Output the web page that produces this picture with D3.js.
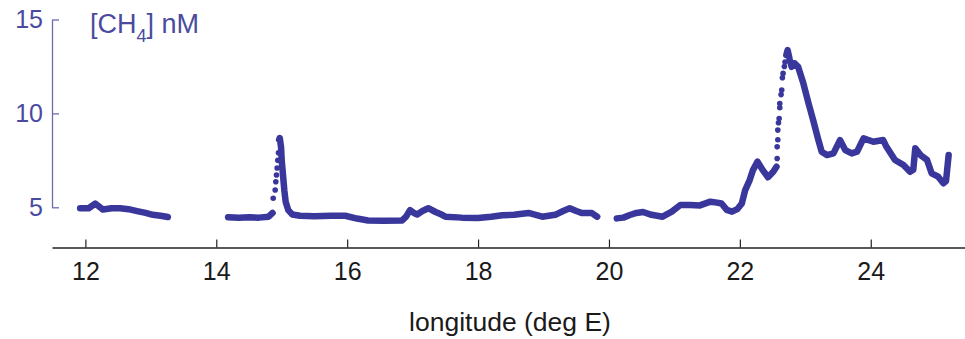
<!DOCTYPE html>
<html>
<head>
    <script src="https://d3js.org/d3.v7.min.js"></script>
    <style>
        body { margin: 0; background: #fff; }
        text { font-family: "Liberation Sans", Arial, sans-serif; }
    </style>
</head>
<body>
    <div id="chart"></div>

    <script>

        // 측정 구간 (dense track) : null = 끊김
        const trackLon = [
            11.92, 12.05, 12.15, 12.27, 12.40, 12.53, 12.66, 12.79, 12.92, 13.03, 13.15, 13.26,
            null,
            14.18, 14.35, 14.50, 14.65, 14.80, 14.86,
            null,
            14.96, 14.97, 14.99, 15.00, 15.02, 15.04, 15.06, 15.10, 15.16, 15.28, 15.50, 15.75,
            15.97, 16.15, 16.32, 16.55, 16.84, 16.90, 16.96, 17.02, 17.07, 17.15, 17.24, 17.35,
            17.45, 17.50, 17.75, 18.00, 18.20, 18.37, 18.55, 18.77, 18.98, 19.18, 19.30, 19.40,
            19.50, 19.59, 19.74, 19.82,
            null,
            20.12, 20.22, 20.32, 20.42, 20.52, 20.65, 20.82, 20.96, 21.09, 21.24, 21.39, 21.55,
            21.65, 21.72, 21.80, 21.88, 21.96, 22.03, 22.08, 22.15, 22.20, 22.27, 22.35, 22.43,
            22.51, 22.56,
            null,
            22.71, 22.73, 22.76, 22.79, 22.84, 22.89, 22.97, 23.05, 23.12, 23.20, 23.25, 23.33,
            23.43, 23.53, 23.61, 23.71, 23.79, 23.89, 24.04, 24.19, 24.24, 24.37, 24.50, 24.60,
            24.65, 24.68, 24.76, 24.86, 24.93, 25.03, 25.11, 25.15, 25.19
        ];
        const trackCh4 = [
            4.95, 4.95, 5.20, 4.88, 4.95, 4.95, 4.90, 4.80, 4.70, 4.60, 4.55, 4.48,
            null,
            4.47, 4.45, 4.47, 4.45, 4.50, 4.70,
            null,
            8.60, 8.69, 8.20, 7.50, 6.70, 5.90, 5.30, 4.85, 4.62, 4.55, 4.52, 4.55,
            4.55, 4.40, 4.30, 4.28, 4.30, 4.50, 4.85, 4.70, 4.62, 4.80, 4.95, 4.75,
            4.60, 4.50, 4.45, 4.43, 4.50, 4.58, 4.60, 4.70, 4.50, 4.60, 4.80, 4.95,
            4.80, 4.69, 4.69, 4.50,
            null,
            4.41, 4.45, 4.59, 4.70, 4.75, 4.60, 4.50, 4.77, 5.12, 5.12, 5.10, 5.30,
            5.25, 5.20, 4.86, 4.77, 4.90, 5.20, 5.90, 6.45, 6.98, 7.43, 6.98, 6.60,
            6.89, 7.16,
            null,
            13.10, 13.37, 12.90, 12.48, 12.66, 12.48, 11.60, 10.53, 9.64, 8.58, 7.96, 7.78,
            7.87, 8.58, 8.05, 7.87, 7.96, 8.67, 8.49, 8.58, 8.22, 7.52, 7.25, 6.89,
            7.00, 8.14, 7.78, 7.52, 6.81, 6.63, 6.28, 6.40, 7.78
        ];

        // 급상승 구간의 드문드문한 점들
        const sparseLon = [14.87, 14.90, 14.91, 14.92, 14.93, 14.94, 14.95,
                           22.57, 22.57, 22.58, 22.58, 22.59, 22.60, 22.61, 22.61, 22.63, 22.64, 22.65, 22.66, 22.68, 22.69];
        const sparseCh4 = [5.48, 5.92, 6.36, 6.72, 7.09, 7.50, 7.90,
                           7.60, 8.22, 8.60, 9.11, 9.50, 9.73, 10.30, 10.53, 11.00, 11.24, 11.90, 12.13, 12.50, 12.74];

        const xTicks = [12, 14, 16, 18, 20, 22, 24];
        const yTicks = [5, 10, 15];

        const width = 965, height = 339;
        const blue = "#39379b";

        const svg = d3.select("#chart")
            .append("svg")
            .attr("width", width)
            .attr("height", height);

        svg.append("rect").attr("width", width).attr("height", height).attr("fill", "#fff");

        const x = d3.scaleLinear().domain([11.49, 25.44]).range([52, 965]);
        const y = d3.scaleLinear().domain([5, 15]).range([207.3, 19.5]);
        const axisY = 247.5;

        ////////////////////////////////////////////////////////////////////////////////
        // x 축 (검정, 눈금 위쪽)
        const gx = svg.append("g")
            .attr("transform", `translate(0,${axisY})`)
            .call(d3.axisBottom(x).tickValues(xTicks).tickSizeInner(-8).tickSizeOuter(0).tickPadding(15).tickFormat(d3.format("d")));
        gx.select(".domain").attr("stroke", "#222").attr("stroke-width", 1.3);
        gx.selectAll(".tick line").attr("stroke", "#222").attr("stroke-width", 1.2);
        gx.selectAll(".tick text").attr("fill", "#1a1a1a").style("font-size", "25px");

        svg.append("text")
            .attr("x", 510)
            .attr("y", 331)
            .attr("text-anchor", "middle")
            .attr("fill", "#1a1a1a")
            .style("font-size", "26.5px")
            .text("longitude (deg E)");

        ////////////////////////////////////////////////////////////////////////////////
        // y 축 (보라색, 눈금 오른쪽)
        const gy = svg.append("g")
            .attr("transform", "translate(52,0)")
            .call(d3.axisLeft(y).tickValues(yTicks).tickSizeInner(-7).tickSizeOuter(0).tickPadding(9));
        gy.select(".domain").attr("stroke", "#6b6bb0").attr("stroke-width", 1.3);
        gy.selectAll(".tick line").attr("stroke", "#6b6bb0").attr("stroke-width", 1.3);
        gy.selectAll(".tick text").attr("fill", "#4a4aa0").style("font-size", "25px");

        const ylab = svg.append("text")
            .attr("x", 90)
            .attr("y", 33)
            .attr("fill", "#4a4aa0")
            .style("font-size", "27px");
        ylab.append("tspan").text("[CH");
        ylab.append("tspan").attr("dy", 9).style("font-size", "18px").text("4");
        ylab.append("tspan").attr("dy", -9).text("] nM");

        ////////////////////////////////////////////////////////////////////////////////
        // 데이터
        const track = trackLon.map((d, i) => ({lon: d, v: trackCh4[i]}));
        const sparse = sparseLon.map((d, i) => ({lon: d, v: sparseCh4[i]}));

        const line = d3.line()
            .defined(d => d.lon !== null && d.v !== null)
            .x(d => x(d.lon))
            .y(d => y(d.v));

        svg.append("path")
            .datum(track)
            .attr("d", line)
            .attr("fill", "none")
            .attr("stroke", blue)
            .attr("stroke-width", 6.5)
            .attr("stroke-linejoin", "round")
            .attr("stroke-linecap", "round");

        svg.selectAll("circle.sparse")
            .data(sparse)
            .enter()
            .append("circle")
            .attr("class", "sparse")
            .attr("cx", d => x(d.lon))
            .attr("cy", d => y(d.v))
            .attr("r", 2.8)
            .attr("fill", blue);

    </script>
</body>
</html>
